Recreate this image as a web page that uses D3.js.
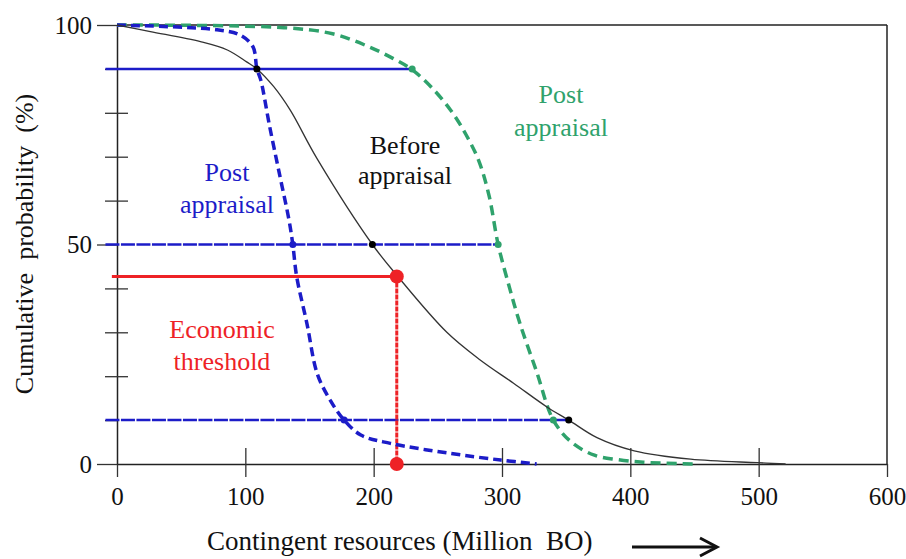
<!DOCTYPE html>
<html>
<head>
<meta charset="utf-8">
<script src="https://cdn.jsdelivr.net/npm/d3@7"></script>
<style>
  body { margin: 0; background: #fff; }
  svg { display: block; }
  text { font-family: 'Liberation Serif', 'Times New Roman', serif; white-space: pre; }
</style>
</head>
<body>
<script>
// Cumulative probability curves, before / after appraisal

const width = 906;
const height = 559;
const margin = {top: 25, right: 19, bottom: 95, left: 117};

// Before appraisal (black, thin)
const beforeX = [0, 26, 65, 86, 101, 109, 122, 135, 156, 199, 218, 257, 283, 309, 335, 352, 374, 403, 447, 499, 521];
const beforeY = [100, 98.5, 96.2, 94.3, 91.6, 90, 86, 80.6, 69.5, 50, 43, 30, 23.7, 18.4, 13, 10, 6, 3, 1.1, 0.3, 0];

// Post appraisal, low case (blue dashed)
const postLowX = [0, 78, 96, 106, 109, 112, 119, 127, 134, 137, 140, 148, 156, 166, 177, 190, 213, 260, 299, 327];
const postLowY = [100, 98.9, 97.7, 95, 90, 87.5, 76.8, 65.5, 55.6, 50, 42.7, 32, 20.6, 14.6, 10, 6.6, 4.7, 2.4, 0.9, 0];

// Post appraisal, high case (green dashed)
const postHighX = [0, 130, 168, 195, 215, 230, 245, 260, 272, 282, 290, 297, 306, 314, 327, 340, 354, 372, 390, 410, 450];
const postHighY = [100, 99.4, 98, 95.2, 92.4, 89.8, 85.8, 80.6, 75, 69, 61, 50, 40, 32, 21, 10, 5, 2, 1, 0.4, 0];

// Probability levels (P90 / P50 / P10) and where each line stops
const levels = [90, 50, 10];
const levelEnds = [230, 297, 352];
const beforeAt = [109, 199, 352];
const postLowAt = [109, 137, 177];
const postHighAt = [230, 297, 340];

// Economic threshold
const thresholdX = 218;
const thresholdY = 42.7;

// Axes
const xTicks = [0, 100, 200, 300, 400, 500, 600];
const yLabels = [0, 50, 100];
const yMinor = [10, 20, 30, 40, 60, 70, 80, 90];

const blue = '#1c1cc8';
const green = '#2fa26c';
const red = '#ee2226';

const svg = d3.select('body').append('svg')
  .attr('width', width)
  .attr('height', height);

const x = d3.scaleLinear().domain([0, 600]).range([margin.left, width - margin.right]);
const y = d3.scaleLinear().domain([0, 100]).range([height - margin.bottom, margin.top]);

// frame top and right
svg.append('line')
  .attr('x1', x(0)).attr('x2', x(600)).attr('y1', y(100)).attr('y2', y(100))
  .attr('stroke', '#222').attr('stroke-width', 1.5);
svg.append('line')
  .attr('x1', x(600)).attr('x2', x(600)).attr('y1', y(100)).attr('y2', y(0))
  .attr('stroke', '#222').attr('stroke-width', 1.5);

// x axis
const gx = svg.append('g')
  .attr('transform', `translate(0,${y(0)})`)
  .call(d3.axisBottom(x).tickValues(xTicks).tickSize(13).tickSizeOuter(0).tickPadding(10));
gx.selectAll('.tick line')
  .attr('y1', d => (d === 0 || d === 600) ? 0 : -16);

// y axis, labelled ticks
const gy = svg.append('g')
  .attr('transform', `translate(${x(0)},0)`)
  .call(d3.axisLeft(y).tickValues(yLabels).tickSize(20).tickSizeOuter(0).tickPadding(5));

// y axis, unlabelled ticks crossing the axis
const gyMinor = svg.append('g')
  .attr('transform', `translate(${x(0)},0)`)
  .call(d3.axisLeft(y).tickValues(yMinor).tickSize(12).tickSizeOuter(0).tickFormat(''));
gyMinor.select('.domain').remove();
gyMinor.selectAll('.tick line').attr('x1', d => levels.includes(d) ? 0 : 11);

svg.selectAll('.domain').attr('stroke', '#222').attr('stroke-width', 1.5);
svg.selectAll('.tick line').attr('stroke', '#333').attr('stroke-width', 1.3);
svg.selectAll('.tick text')
  .attr('fill', '#111')
  .style('font-size', '25px')
  .style('font-family', "'Liberation Serif', 'Times New Roman', serif");

// level lines
svg.selectAll('.level')
  .data(levels)
  .join('line')
  .classed('level', true)
  .attr('x1', x(-9))
  .attr('x2', (d, i) => x(levelEnds[i]))
  .attr('y1', d => y(d))
  .attr('y2', d => y(d))
  .attr('stroke', blue)
  .attr('stroke-width', 2.5)
  .attr('stroke-dasharray', (d, i) => i === 0 ? null : '14,1.5');

// threshold lines
svg.append('line')
  .attr('x1', x(-4)).attr('x2', x(thresholdX))
  .attr('y1', y(thresholdY)).attr('y2', y(thresholdY))
  .attr('stroke', red).attr('stroke-width', 3);
svg.append('line')
  .attr('x1', x(thresholdX)).attr('x2', x(thresholdX))
  .attr('y1', y(thresholdY)).attr('y2', y(0))
  .attr('stroke', red).attr('stroke-width', 3)
  .attr('stroke-dasharray', '5,1');

// curves
const line = d3.line()
  .x(d => x(d[0]))
  .y(d => y(d[1]))
  .curve(d3.curveCatmullRom.alpha(0.5));

svg.append('path')
  .datum(d3.zip(postHighX, postHighY))
  .attr('d', line)
  .attr('fill', 'none')
  .attr('stroke', green)
  .attr('stroke-width', 3.5)
  .attr('stroke-dasharray', '10,6');

svg.append('path')
  .datum(d3.zip(postLowX, postLowY))
  .attr('d', line)
  .attr('fill', 'none')
  .attr('stroke', blue)
  .attr('stroke-width', 3.5)
  .attr('stroke-dasharray', '9,5');

svg.append('path')
  .datum(d3.zip(beforeX, beforeY))
  .attr('d', line)
  .attr('fill', 'none')
  .attr('stroke', '#333')
  .attr('stroke-width', 1.3);

// intersection dots
svg.selectAll('.dotHigh')
  .data(levels)
  .join('circle')
  .attr('cx', (d, i) => x(postHighAt[i]))
  .attr('cy', d => y(d))
  .attr('r', 3.5)
  .attr('fill', green);
svg.selectAll('.dotLow')
  .data(levels.slice(1))
  .join('circle')
  .attr('cx', (d, i) => x(postLowAt[i + 1]))
  .attr('cy', d => y(d))
  .attr('r', 3.5)
  .attr('fill', blue);
svg.selectAll('.dotBefore')
  .data(levels)
  .join('circle')
  .attr('cx', (d, i) => x(beforeAt[i]))
  .attr('cy', d => y(d))
  .attr('r', 3.5)
  .attr('fill', '#000');

svg.selectAll('.dotRed')
  .data([thresholdY, 0])
  .join('circle')
  .attr('cx', x(thresholdX))
  .attr('cy', d => y(d))
  .attr('r', 7)
  .attr('fill', red);

// annotations
function label(lines, cx, baselines, color) {
  const t = svg.append('text')
    .attr('text-anchor', 'middle')
    .attr('fill', color)
    .style('font-size', '26px');
  lines.forEach((s, i) => {
    t.append('tspan').attr('x', cx).attr('y', baselines[i]).text(s);
  });
}
label(['Post', 'appraisal'], 227, [181, 213], blue);
label(['Before', 'appraisal'], 405, [154, 184], '#111');
label(['Post', 'appraisal'], 561, [103, 136], green);
label(['Economic', 'threshold'], 222, [338, 370], red);

// axis titles
svg.append('text')
  .attr('x', 207)
  .attr('y', 550)
  .attr('fill', '#111')
  .style('font-size', '27px')
  .text('Contingent resources (Million  BO)');

svg.append('text')
  .attr('transform', 'translate(33,244) rotate(-90)')
  .attr('text-anchor', 'middle')
  .attr('fill', '#111')
  .style('font-size', '26px')
  .text('Cumulative  probability  (%)');

// arrow after the x title
svg.append('line')
  .attr('x1', 632).attr('x2', 716).attr('y1', 547).attr('y2', 547)
  .attr('stroke', '#111').attr('stroke-width', 3);
svg.append('path')
  .attr('d', 'M700,538 L717,547 L700,556')
  .attr('fill', 'none')
  .attr('stroke', '#111')
  .attr('stroke-width', 3);
</script>
</body>
</html>
